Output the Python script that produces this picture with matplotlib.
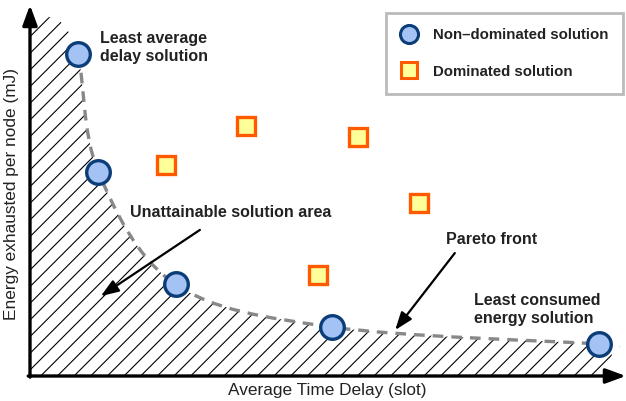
import matplotlib
matplotlib.use("Agg")
import matplotlib.pyplot as plt
from matplotlib.path import Path
from matplotlib.patches import PathPatch
from matplotlib.lines import Line2D
import numpy as np

# ---------------- data ----------------
delay_nd = [0.81, 1.16, 2.47, 5.12, 9.64]     # non-dominated (Pareto) solutions
energy_nd = [8.74, 5.54, 2.49, 1.33, 0.87]
delay_d = [2.31, 3.66, 5.56, 6.59, 4.88]      # dominated solutions
energy_d = [5.73, 6.79, 6.49, 4.70, 2.74]
region_top = (0.46, 9.75)    # extension of unattainable area above first point
region_end = (9.86, 0.80)    # extension of unattainable area beyond last point

x_label = "Average Time Delay (slot)"
y_label = "Energy exhausted per node (mJ)"
legend_labels = ["Non\u2013dominated solution", "Dominated solution"]

plt.rcParams['font.family'] = ['Liberation Sans', 'DejaVu Sans']
plt.rcParams['hatch.linewidth'] = 0.8

W, H = 626, 401
fig = plt.figure(figsize=(W / 100, H / 100), dpi=100)
ax = fig.add_axes([30 / W, 25 / H, 590 / W, 368 / H])
ax.set_xlim(0, 10)
ax.set_ylim(0, 10)
ax.axis('off')


def catmull_bezier(pts):
    """Return bezier vertices/codes (CURVE4) through pts (excluding first MOVETO)."""
    pts = np.asarray(pts, float)
    verts, codes = [], []
    n = len(pts)
    for i in range(n - 1):
        p0 = pts[i - 1] if i > 0 else pts[i]
        p1 = pts[i]
        p2 = pts[i + 1]
        p3 = pts[i + 2] if i + 2 < n else pts[i + 1]
        c1 = p1 + (p2 - p0) / 6.0
        c2 = p2 - (p3 - p1) / 6.0
        verts += [tuple(c1), tuple(c2), tuple(p2)]
        codes += [Path.CURVE4] * 3
    return verts, codes


front = list(zip(delay_nd, energy_nd))

# hatched unattainable area
ext = [region_top] + front + [region_end]
bv, bc = catmull_bezier(ext)
verts = [(0, 0), (0, region_top[1]), region_top] + bv + [(region_end[0], 0), (0, 0)]
codes = [Path.MOVETO, Path.LINETO, Path.LINETO] + bc + [Path.LINETO, Path.CLOSEPOLY]
area = PathPatch(Path(verts, codes), facecolor='none', edgecolor='black',
                 hatch='//', lw=0, zorder=1)
ax.add_patch(area)

# pareto front dashed curve (same spline, restricted to the front points)
seg_v = bv[3:3 * len(front)]
fv = [front[0]] + seg_v
fc = [Path.MOVETO] + [Path.CURVE4] * len(seg_v)
curve = PathPatch(Path(fv, fc), facecolor='none', edgecolor='#888888',
                  lw=2.4, linestyle=(0, (3.2, 2.4)), zorder=2)
ax.add_patch(curve)

# markers
circ_kw = dict(marker='o', markersize=17, markerfacecolor='#a4c2f4',
               markeredgecolor='#0b3d78', markeredgewidth=2.4, linestyle='none')
sq_kw = dict(marker='s', markersize=13, markerfacecolor='#ffff99',
             markeredgecolor='#ff5a00', markeredgewidth=2.4, linestyle='none')
ax.plot(delay_nd, energy_nd, zorder=4, clip_on=False, **circ_kw)
ax.plot(delay_d, energy_d, zorder=4, clip_on=False, **sq_kw)

# axes with arrows
ax_kw = dict(arrowstyle='-|>,head_length=0.6,head_width=0.22', lw=2.4,
             color='black', shrinkA=0, shrinkB=0, mutation_scale=20)
ax.annotate('', xy=(0, 10.08), xytext=(0, -0.03), arrowprops=ax_kw,
            annotation_clip=False, zorder=5)
ax.annotate('', xy=(10.1, 0), xytext=(-0.03, 0), arrowprops=ax_kw,
            annotation_clip=False, zorder=5)

# axis labels
fig.text(327 / W, 1 - 390 / H, x_label, ha='center', va='center',
         fontsize=12.4, color='#222222')
fig.text(12 / W, 1 - 194 / H, y_label, ha='center', va='center',
         rotation=90, fontsize=12.4, color='#222222')

# annotations
tkw = dict(fontsize=11.5, fontweight='bold', color='#222222', ha='left',
           va='center', linespacing=1.25)
ax.text(1.19, 8.94, "Least average\ndelay solution", **tkw)
ax.text(1.69, 4.43, "Unattainable solution area", **tkw)
ax.text(7.05, 3.70, "Pareto front", **tkw)
ax.text(7.53, 1.82, "Least consumed\nenergy solution", **tkw)

arr_kw = dict(arrowstyle='-|>,head_length=0.6,head_width=0.22', lw=1.6,
              color='black', shrinkA=0, shrinkB=0, mutation_scale=18)
ax.annotate('', xy=(1.20, 2.17), xytext=(2.88, 3.97), arrowprops=arr_kw, zorder=3)
ax.annotate('', xy=(6.19, 1.25), xytext=(7.20, 3.34), arrowprops=arr_kw, zorder=3)

# legend
h1 = Line2D([], [], **{**circ_kw, 'markersize': 13, 'markeredgewidth': 2.2})
h2 = Line2D([], [], **{**sq_kw, 'markersize': 11, 'markeredgewidth': 2.2})
leg = fig.legend([h1, h2], legend_labels, loc='upper right',
                 bbox_to_anchor=(623 / W, 1 - 13 / H), frameon=True,
                 fancybox=False, framealpha=1, edgecolor='#bbbbbb',
                 prop=dict(family='Liberation Sans', weight='bold', size=10.8),
                 labelspacing=1.5, borderpad=1.0, handletextpad=1.1,
                 handlelength=1.0, borderaxespad=0)
leg.get_frame().set_linewidth(2)
for t in leg.get_texts():
    t.set_color('#222222')

fig.savefig('out.png', dpi=100)
